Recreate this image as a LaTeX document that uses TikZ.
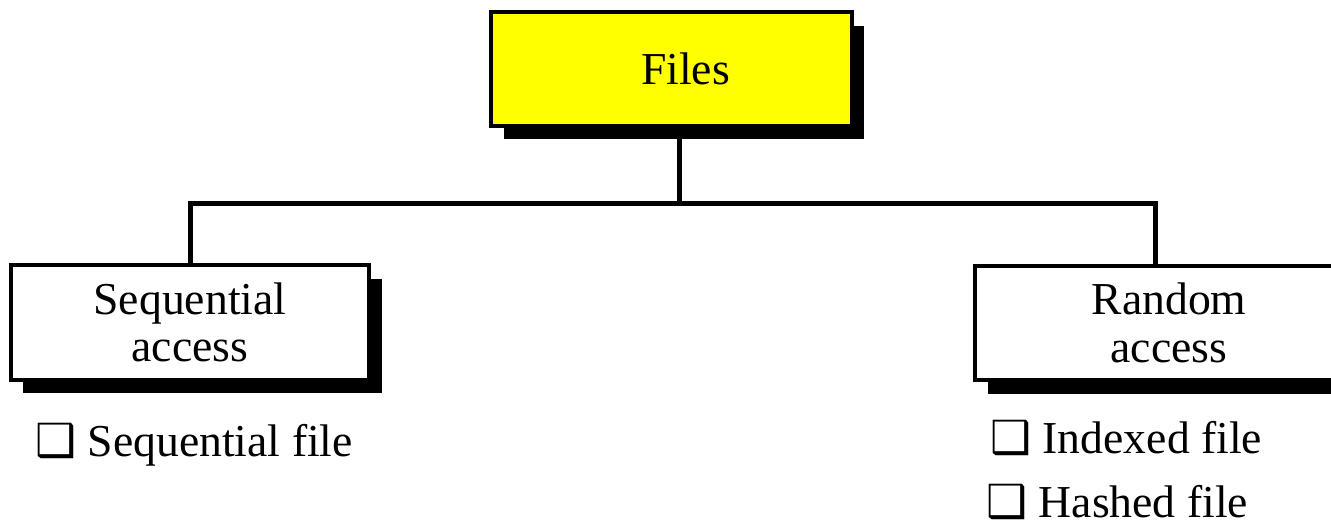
\documentclass[tikz,border=0pt]{standalone}
\usepackage{fontspec}
\setmainfont{Liberation Serif}
\newfontfamily\boxsym{DejaVu Sans}
\usetikzlibrary{shadows}
\definecolor{fileyellow}{RGB}{255,255,0}

\begin{document}
\begin{tikzpicture}[x=0.02cm,y=-0.02cm]
\tikzstyle{every node}+=[font=\fontsize{26}{27}\selectfont]
\tikzstyle{box}=[draw=black,line width=0.08cm,fill=white,align=center,minimum width=7.18cm,minimum height=2.3cm,drop shadow={shadow xshift=0.25cm,shadow yshift=-0.27cm,fill=black,opacity=1}]
\tikzstyle{item}=[anchor=base west,inner sep=0pt]
\tikzstyle{link}=[line width=0.1cm]
\useasboundingbox (0,0) rectangle (1331,528);
\node [box,fill=fileyellow,minimum width=7.22cm,minimum height=2.28cm] (files) at (671.5,69) {\hspace*{0.56cm}Files};
\node [box] (seq) at (190,322.5) {Sequential\\access};
\node [box,minimum width=7.76cm] (rand) at (1169,323) {Random\\access};
\coordinate (fork) at (679.5,203);
\draw [link] (files.south -| fork) -- (fork);
\draw [link] (seq.north) |- (fork) -| ([xshift=-0.28cm]rand.north);
\node [item] (seqfile) at (35,456) {{\boxsym ❑} Sequential file};
\node [item] (idxfile) at (990,453) {{\boxsym ❑} Indexed file};
\node [item] (hashfile) at (986,517) {{\boxsym ❑} Hashed file};
\end{tikzpicture}
\end{document}
